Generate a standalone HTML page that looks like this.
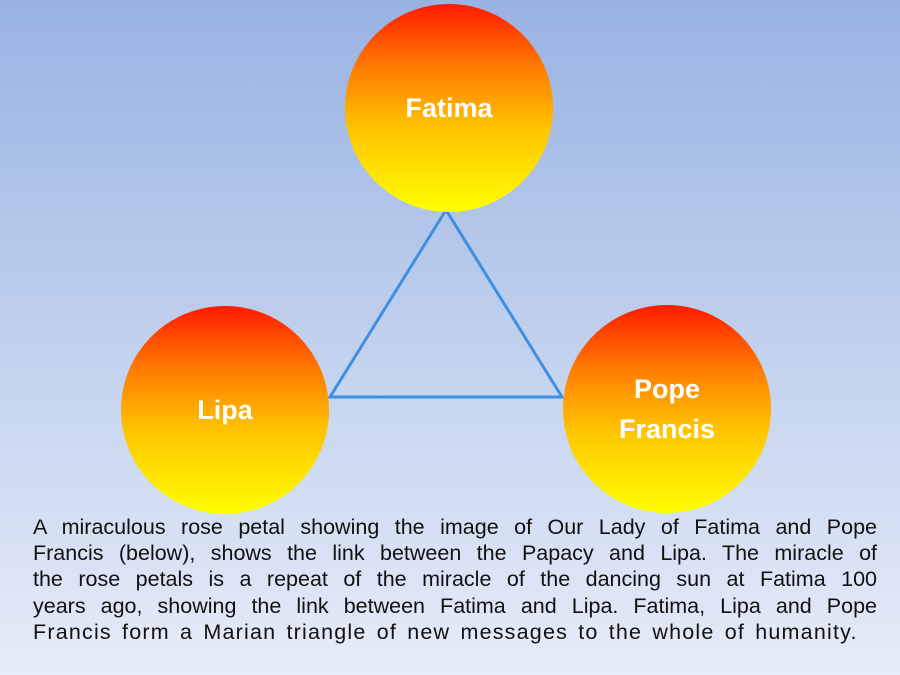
<!DOCTYPE html>
<html><head><style>
html,body{margin:0;padding:0}
body{width:900px;height:675px;overflow:hidden;background:linear-gradient(to bottom,#98b2e2 0%,#c4d3ee 55%,#e6ecf8 100%);position:relative;font-family:"Liberation Sans",sans-serif}
.c{position:absolute;width:208px;height:208px;border-radius:50%;background:linear-gradient(to bottom,#ff1a00 0%,#ff7a00 30%,#ffc400 60%,#ffff00 100%);color:#fff;font-weight:bold;font-size:27px;display:flex;align-items:center;justify-content:center;text-align:center;line-height:40px}
.t{position:absolute;left:33px;top:514px;width:844px;font-size:21.5px;line-height:26.2px;color:#111}
.t div{text-align:justify;text-align-last:justify;white-space:nowrap;overflow:visible}
.t div.l{text-align-last:left}
</style></head><body>
<svg width="900" height="675" style="position:absolute;left:0;top:0"><polygon points="446,210 330,397 562,397" fill="none" stroke="#3d8fe4" stroke-width="3"/></svg>
<div class="c" style="left:345px;top:4px">Fatima</div>
<div class="c" style="left:121px;top:306px">Lipa</div>
<div class="c" style="left:563px;top:305px">Pope<br>Francis</div>
<div class="t">
<div>A miraculous rose petal showing the image of Our Lady of Fatima and Pope</div>
<div>Francis (below), shows the link between the Papacy and Lipa. The miracle of</div>
<div>the rose petals is a repeat of the miracle of the dancing sun at Fatima 100</div>
<div>years ago, showing the link between Fatima and Lipa. Fatima, Lipa and Pope</div>
<div class="l" style="letter-spacing:1.2px;word-spacing:3px">Francis form a Marian triangle of new messages to the whole of humanity.</div>
</div>
</body></html>
